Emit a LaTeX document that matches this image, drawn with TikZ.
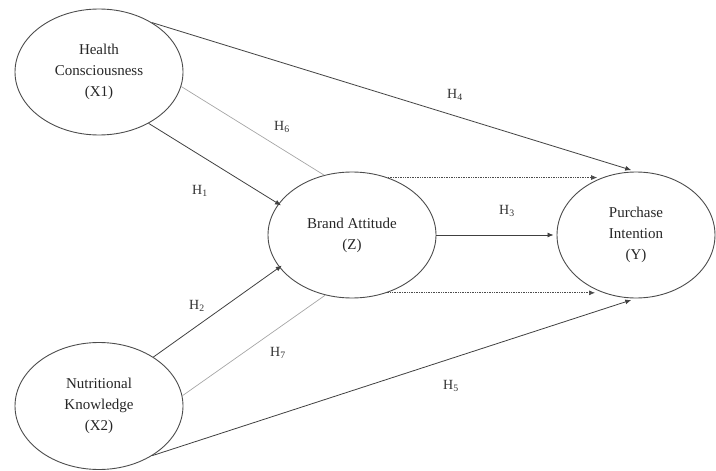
\documentclass[tikz,border=0pt]{standalone}
\usepackage{fontspec}
\setmainfont{Liberation Serif}
\usetikzlibrary{arrows.meta,shapes.geometric}
\begin{document}
\begin{tikzpicture}[x=1pt,y=-1pt,
  latent/.style={ellipse,draw=black!70,line width=0.9pt,inner sep=0pt,align=center,
    text=black!85,font=\fontsize{15}{21}\selectfont},
  path1/.style={draw=black!75,line width=0.8pt},
  arr/.style={path1,-{Latex[length=6pt,width=5pt]}},
  faint/.style={draw=black!35,line width=0.7pt},
  dotarr/.style={draw=black!70,line width=0.7pt,densely dotted,-{Latex[length=6pt,width=5pt]}},
  hlab/.style={text=black!80,font=\fontsize{14}{16}\selectfont,inner sep=1pt}]
\useasboundingbox (0,0) rectangle (716,471);
\node[latent,minimum width=168pt,minimum height=126pt] (X1) at (99,72) {Health\\Consciousness\\(X1)};
\node[latent,minimum width=168pt,minimum height=127pt] (X2) at (99,406) {Nutritional\\Knowledge\\(X2)};
\node[latent,minimum width=168pt,minimum height=126pt] (Z) at (352,235) {Brand Attitude\\(Z)};
\node[latent,minimum width=158pt,minimum height=126pt] (Y) at (636,235) {Purchase\\Intention\\(Y)};
% connectors
\draw[arr,shorten >=5pt] (X1.43) -- (Y.90);
\draw[faint] (X1.-10) -- (Z.115);
\draw[arr,shorten >=-3pt] (X1.-46) -- (Z.157);
\draw[arr,shorten >=3pt] (Z.east) -- (Y.west);
\draw[dotarr] (Z.58) -- (Z.58 -| Y.125);
\draw[dotarr] (Z.-59) -- (Z.-59 -| Y.-127);
\draw[arr,shorten >=-3pt] (X2.42) -- (Z.-156);
\draw[faint] (X2.7) -- (Z.-114);
\draw[arr,shorten >=5pt] (X2.-43) -- (Y.-90);
% labels
\node[hlab] (h4) at (455,95) {H\textsubscript{4}};
\node[hlab] (h6) at (282,127) {H\textsubscript{6}};
\node[hlab] (h1) at (200,191) {H\textsubscript{1}};
\node[hlab] (h3) at (507,211) {H\textsubscript{3}};
\node[hlab] (h2) at (197,306) {H\textsubscript{2}};
\node[hlab] (h7) at (278,353) {H\textsubscript{7}};
\node[hlab] (h5) at (451,386) {H\textsubscript{5}};
\end{tikzpicture}
\end{document}
